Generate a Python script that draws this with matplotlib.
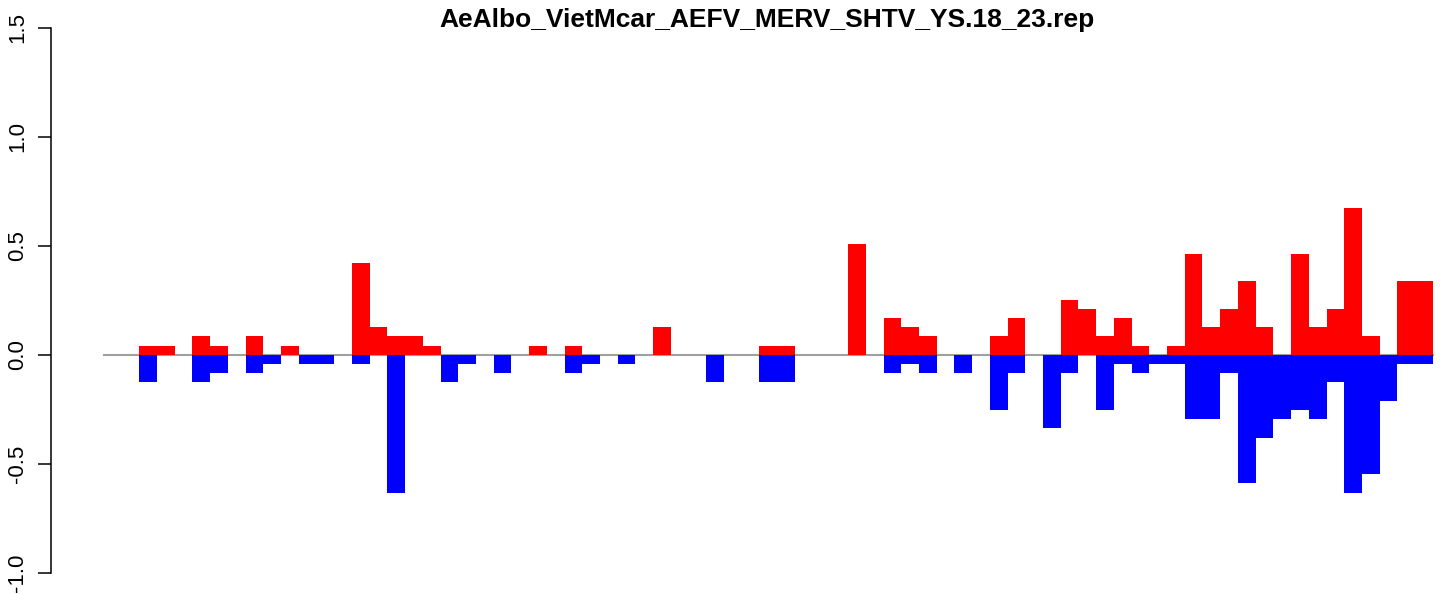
import matplotlib
matplotlib.use("Agg")
import matplotlib.pyplot as plt
import numpy as np

plt.rcParams['font.family'] = ['Liberation Sans', 'DejaVu Sans']

title = "AeAlbo_VietMcar_AEFV_MERV_SHTV_YS.18_23.rep"

# bar heights, one per bin (75 bins)
red_vals = [0, 0, 0.042, 0.042, 0, 0.084, 0.042, 0, 0.084, 0,
            0.042, 0, 0, 0, 0.422, 0.127, 0.084, 0.084, 0.042, 0,
            0, 0, 0, 0, 0.042, 0, 0.042, 0, 0, 0,
            0, 0.127, 0, 0, 0, 0, 0, 0.042, 0.042, 0,
            0, 0, 0.506, 0, 0.169, 0.127, 0.084, 0, 0, 0,
            0.084, 0.169, 0, 0, 0.253, 0.211, 0.084, 0.169, 0.042, 0,
            0.042, 0.464, 0.127, 0.211, 0.338, 0.127, 0, 0.464, 0.127, 0.211,
            0.675, 0.084, 0, 0.338, 0.338]
blue_vals = [0, 0, -0.127, 0, 0, -0.127, -0.084, 0, -0.084, -0.042,
             0, -0.042, -0.042, 0, -0.042, 0, -0.633, 0, 0, -0.127,
             -0.042, 0, -0.084, 0, 0, 0, -0.084, -0.042, 0, -0.042,
             0, 0, 0, 0, -0.127, 0, 0, -0.127, -0.127, 0,
             0, 0, 0, 0, -0.084, -0.042, -0.084, 0, -0.084, 0,
             -0.253, -0.084, 0, -0.338, -0.084, 0, -0.253, -0.042, -0.084, -0.042,
             -0.042, -0.295, -0.295, -0.084, -0.591, -0.38, -0.295, -0.253, -0.295, -0.127,
             -0.633, -0.549, -0.211, -0.042, -0.042]
yticks = [-1.0, -0.5, 0.0, 0.5, 1.0, 1.5]

W, H = 1441, 594
fig = plt.figure(figsize=(W / 100, H / 100), dpi=100)

# plot region in pixels (R style: xlim = [-3, 78], ylim = [-1.1, 1.6])
px_left, px_right = 50.7, 1486.0
px_top, px_bottom = 6.1, 594.4
ax = fig.add_axes([px_left / W, (H - px_bottom) / H,
                   (px_right - px_left) / W, (px_bottom - px_top) / H])
ax.set_xlim(-3, 78)
ax.set_ylim(-1.1, 1.6)

x = np.arange(len(red_vals))
ax.bar(x, red_vals, width=1, align='edge', color='#ff0000', linewidth=0)
ax.bar(x, blue_vals, width=1, align='edge', color='#0000ff', linewidth=0)
ax.plot([0, len(red_vals)], [0, 0], color='#a0a0a0', linewidth=1.5, zorder=0.5)

for s in ['top', 'right', 'bottom']:
    ax.spines[s].set_visible(False)
ax.spines['left'].set_bounds(-1.0, 1.5)
ax.spines['left'].set_linewidth(1.1)
ax.set_xticks([])
ax.set_yticks(yticks)
ax.set_yticklabels(["%.1f" % v for v in yticks], rotation=90, va='center',
                   fontsize=16, family=['Liberation Sans Narrow', 'Liberation Sans'])
ax.tick_params(axis='y', length=9.5, width=1.1, pad=6.5)

fig.text(767 / W, 1 - 26.7 / H, title, ha='center', va='baseline',
         fontsize=19, fontweight='bold')

fig.savefig("out.png", dpi=100)
